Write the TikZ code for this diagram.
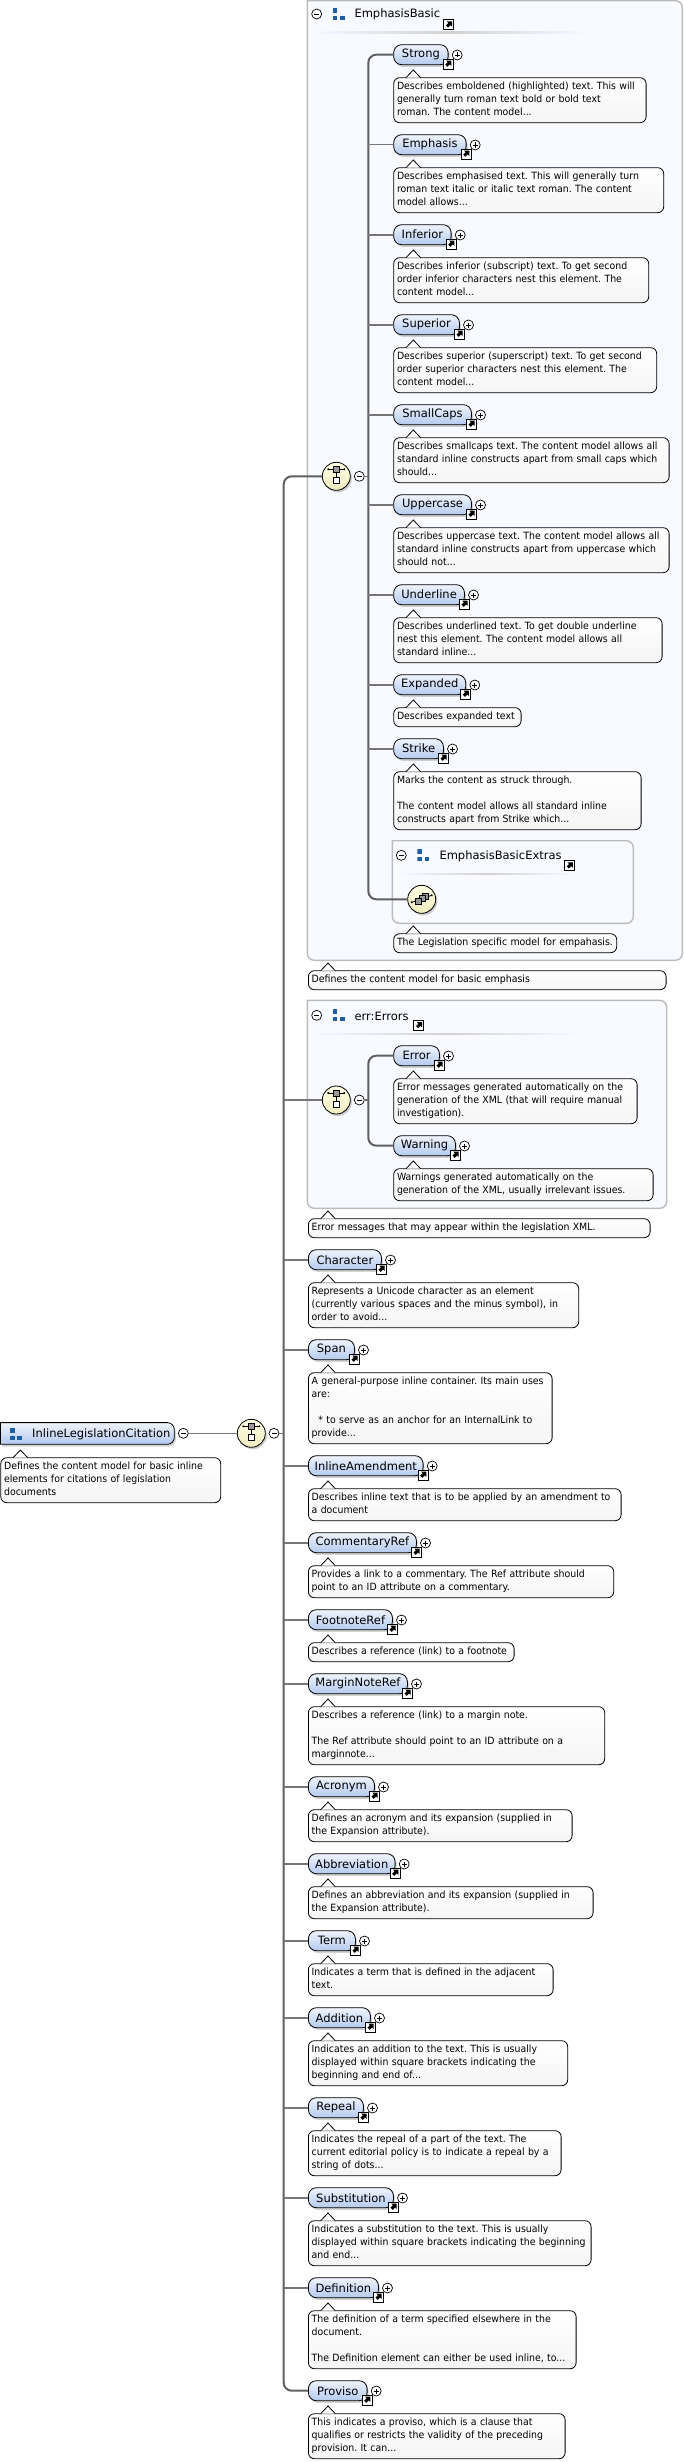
\documentclass[tikz,border=0pt]{standalone}
\usepackage{fontspec}
\setmainfont[FakeStretch=0.938]{DejaVu Sans}
\newfontfamily\labelfont{DejaVu Sans}
\usetikzlibrary{calc,positioning,arrows,shadows,backgrounds}
\pgfdeclarelayer{back}
\pgfsetlayers{back,main}

\definecolor{pilltop}{HTML}{F0F4FD}
\definecolor{pillbottom}{HTML}{B4CAEE}
\definecolor{groupfill}{HTML}{F8FAFF}
\definecolor{groupline}{HTML}{BBBBBB}
\definecolor{wirecolor}{HTML}{5F5F5F}
\definecolor{branchcolor}{HTML}{777777}
\definecolor{iconblue}{HTML}{1F5FA8}
\definecolor{seqtop}{HTML}{FFFFE4}
\definecolor{seqbottom}{HTML}{EFEBBF}

\tikzset{
  elembox/.style={draw,line width=.8pt,rounded corners=8pt,top color=pilltop,bottom color=pillbottom,
    inner sep=0pt,minimum height=20pt,font=\labelfont\fontsize{11.5}{13}\selectfont,
    drop shadow={shadow xshift=1.5pt,shadow yshift=-2.2pt,opacity=.35}},
  docbox/.style={draw,line width=.8pt,rounded corners=6pt,top color=white,bottom color=black!4,
    inner xsep=3.3pt,inner ysep=3pt,align=left,font=\fontsize{10}{13}\selectfont,
    execute at begin node={\frenchspacing\strut},execute at end node={\strut}},
  doctip/.style={draw,line width=.8pt,fill=white},
  titlebox/.style={inner sep=0pt,yshift=-.7pt,font=\labelfont\fontsize{11.5}{13}\selectfont},
  groupframe/.style={draw=groupline,line width=1.4pt,fill=groupfill},
  wire/.style={draw=wirecolor,line width=2pt},
  branch/.style={draw=branchcolor,line width=1.6pt},
  seqbox/.style={circle,draw,line width=.8pt,inner sep=0pt,minimum size=28pt,top color=seqtop,bottom color=seqbottom,
    drop shadow={shadow xshift=1.5pt,shadow yshift=-2pt,opacity=.4}},
  plusbox/.style={circle,draw,line width=.7pt,fill=white,inner sep=0pt,minimum size=10pt,
    path picture={\draw[line width=.7pt] ($(path picture bounding box.center)+(-2.5,0)$) -- ++(5,0);
      \draw[line width=.7pt] ($(path picture bounding box.center)+(0,-2.5)$) -- ++(0,5);}},
  minusbox/.style={circle,draw,line width=.7pt,fill=white,inner sep=0pt,minimum size=10pt,
    path picture={\draw[line width=.7pt] ($(path picture bounding box.center)+(-2.5,0)$) -- ++(5,0);}},
  refbox/.style={draw,line width=.9pt,fill=white,inner sep=0pt,minimum size=10pt,anchor=north west,
    path picture={\fill[black] ($(path picture bounding box.center)+(3.4,-3.4)$) -- ++(-5.4,0) -- ++(1.6,1.6) -- ++(-2.4,2.4) -- ++(2.2,2.2) -- ++(2.4,-2.4) -- ++(1.6,1.6) -- cycle;}},
  iconbox/.style={inner sep=0pt,minimum size=12pt,
    path picture={\fill[iconblue] ($(path picture bounding box.center)+(-6,-6)$) rectangle ++(4.6,4.6);
      \fill[iconblue] ($(path picture bounding box.center)+(-6,1.6)$) rectangle ++(4.6,4.4);
      \fill[iconblue] ($(path picture bounding box.center)+(1.4,1.6)$) rectangle ++(4.6,4.4);}}
}

% comment bubble: name, left, top, right, number of lines, text
\newcommand{\docnote}[6]{
  \pgfmathsetmacro\docw{#4-#2-6.6}
  \pgfmathsetmacro\doch{13*#5+6}
  \node [docbox,anchor=north west,text width=\docw pt,minimum height=\doch pt] at (#2,#3) (#1) {#6};
  \draw [doctip] ($(#1.north west)+(12.7,.4)$) -- ++(7.3,-7.7) -- ++(7.3,7.7);
}

% elements of one sequence: left, then name/pill right/top/bubble right/lines/text
\newcommand{\elementlist}[2]{
  \foreach \lab/\pr/\yy/\dr/\nl/\txt in {#2}
  {
    \pgfmathsetmacro\pw{\pr-#1}
    \pgfmathsetmacro\dy{\yy+33}
    \node [elembox,anchor=north west,minimum width=\pw pt] at (#1,\yy) (elem_\lab) {\lab};
    \node [refbox] at ($(elem_\lab.north east)+(-6,14.3)$) (ref_\lab) {};
    \node [plusbox] at ($(elem_\lab.east)+(8.7,.3)$) (plus_\lab) {};
    \docnote{doc_\lab}{#1}{\dy}{\dr}{\nl}{\txt}
  }
}

\begin{document}
\begin{tikzpicture}[x=1pt,y=-1pt]
  \useasboundingbox (0,0) rectangle (684,2462);

  % group frames
  \draw [groupframe] (307.3,.7) [rounded corners=7pt] -- (682.3,.7) -- (682.3,960.3) -- (307.3,960.3) [sharp corners] -- cycle;
  \draw [groupframe] (307.3,1000.3) [rounded corners=7pt] -- (666.7,1000.3) -- (666.7,1208.3) -- (307.3,1208.3) [sharp corners] -- cycle;
  \draw [groupframe] (392.3,840.7) [rounded corners=7pt] -- (633.3,840.7) -- (633.3,923.3) -- (392.3,923.3) [sharp corners] -- cycle;

  \foreach \gx/\gy/\gw in {310/32/280,310/1033.3/270,397/873.3/178}{
    \shade [left color=groupfill,right color=groupfill,middle color=black!18] (\gx,\gy) rectangle ++(\gw,1.6);
  }

  % group headers
  \foreach \g/\mx/\my/\tx/\txt/\rx/\ry in {
    basic/316.7/14/354.3/EmphasisBasic/443.3/19.3,
    errors/316.7/1015.3/354.3/err:Errors/413.3/1020,
    extras/401.3/855.3/439.3/EmphasisBasicExtras/564/860.3}
  {
    \node [minusbox] at (\mx,\my) (group_minus_\g) {};
    \node [iconbox,right=10.6pt of group_minus_\g] (group_icon_\g) {};
    \node [titlebox,anchor=west] at (\tx,\my) (group_title_\g) {\txt};
    \node [refbox] at (\rx,\ry) (group_ref_\g) {};
  }

  % root element
  \node [titlebox,anchor=west] at (32,1433.3) (root_label) {InlineLegislationCitation};
  \coordinate (root_nw) at (.4,1422.6);
  \coordinate (root_se) at (174.3,1444.3);
  \begin{pgfonlayer}{back}
    \path [draw,line width=.8pt,top color=pilltop,bottom color=pillbottom,drop shadow={shadow xshift=1.5pt,shadow yshift=-2.2pt,opacity=.35}]
      (root_nw) [rounded corners=7pt] -- (root_nw -| root_se) -- (root_se) [sharp corners] -- (root_nw |- root_se) -- cycle;
  \end{pgfonlayer}
  \node [iconbox] at (16,1434.2) (root_icon) {};
  \node [minusbox] at (183.3,1433.3) (root_minus) {};
  \docnote{doc_root}{.4}{1457.3}{220.3}{3}{Defines the content model for basic inline\\elements for citations of legislation\\documents}

  % compositors
  \node [seqbox] at (251.3,1433.3) (seq_main) {};
  \node [minusbox] at (274,1433.3) (seq_main_minus) {};
  \node [seqbox] at (336.3,476.3) (seq_basic) {};
  \node [minusbox] at (359.3,476.3) (seq_basic_minus) {};
  \node [seqbox] at (336.3,1100) (seq_errors) {};
  \node [minusbox] at (359.3,1100) (seq_errors_minus) {};
  \node [seqbox] at (421.7,899.3) (seq_extras) {};

  \foreach \s in {seq_main,seq_basic,seq_errors}{
    \draw [line width=.8pt] ($(\s)+(-8,-7)$) -- ++(16,0);
    \draw [line width=.8pt] ($(\s)+(0,-7)$) -- ++(0,8);
    \fill ($(\s)+(-8,-7)$) circle (1.1);
    \fill ($(\s)+(8,-7)$) circle (1.1);
    \draw [line width=.8pt,fill=black!40] ($(\s)+(-3.2,-10)$) rectangle ++(6.4,6);
    \draw [line width=.8pt,fill=white] ($(\s)+(-3.2,1)$) rectangle ++(6.4,6);
  }

  \draw [line width=.8pt] ($(seq_extras)+(-10,3)$) -- ++(20,-7);
  \fill ($(seq_extras)+(-10,3)$) circle (1.1);
  \fill ($(seq_extras)+(10,-4)$) circle (1.1);
  \draw [line width=.8pt,fill=black!40] ($(seq_extras)+(1,-6)$) rectangle ++(6,6);
  \draw [line width=.8pt,fill=black!40] ($(seq_extras)+(-2.5,-3.5)$) rectangle ++(6,6);
  \draw [line width=.8pt,fill=black!40] ($(seq_extras)+(-6,-.5)$) rectangle ++(6,6);

  % elements
  \elementlist{393.3}{
    Strong/447.7/44.3/645.7/3/{Describes emboldened (highlighted) text. This will\\generally turn roman text bold or bold text\\roman. The content model...},
    Emphasis/465.7/134.3/663.3/3/{Describes emphasised text. This will generally turn\\roman text italic or italic text roman. The content\\model allows...},
    Inferior/450.7/224.3/648.3/3/{Describes inferior (subscript) text. To get second\\order inferior characters nest this element. The\\content model...},
    Superior/459/314.3/656.3/3/{Describes superior (superscript) text. To get second\\order superior characters nest this element. The\\content model...},
    SmallCaps/471/404.3/668.7/3/{Describes smallcaps text. The content model allows all\\standard inline constructs apart from small caps which\\should...},
    Uppercase/471/494.3/668.7/3/{Describes uppercase text. The content model allows all\\standard inline constructs apart from uppercase which\\should not...},
    Underline/464/584.3/661.7/3/{Describes underlined text. To get double underline\\nest this element. The content model allows all\\standard inline...},
    Expanded/465.3/674.3/520.7/1/{Describes expanded text},
    Strike/443/738.3/640.7/4/{Marks the content as struck through.\\~\\The content model allows all standard inline\\constructs apart from Strike which...}}

  \elementlist{393.3}{
    Error/439/1045.3/636.7/3/{Error messages generated automatically on the\\generation of the XML (that will require manual\\investigation).},
    Warning/455/1135.3/652.7/2/{Warnings generated automatically on the\\generation of the XML, usually irrelevant issues.}}

  \elementlist{308}{
    Character/381/1249.3/578.3/3/{Represents a Unicode character as an element\\(currently various spaces and the minus symbol), in\\order to avoid...},
    Span/354/1339.3/551.7/5/{A general-purpose inline container. Its main uses\\are:\\~\\\ \ * to serve as an anchor for an InternalLink to\\provide...},
    InlineAmendment/422.7/1455.3/620.7/2/{Describes inline text that is to be applied by an amendment to\\a document},
    CommentaryRef/416/1532.3/613.3/2/{Provides a link to a commentary. The Ref attribute should\\point to an ID attribute on a commentary.},
    FootnoteRef/392/1609.3/513.7/1/{Describes a reference (link) to a footnote},
    MarginNoteRef/407/1673.3/604.3/4/{Describes a reference (link) to a margin note.\\~\\The Ref attribute should point to an ID attribute on a\\marginnote...},
    Acronym/374/1776.3/571.7/2/{Defines an acronym and its expansion (supplied in\\the Expansion attribute).},
    Abbreviation/394.7/1853.3/592.7/2/{Defines an abbreviation and its expansion (supplied in\\the Expansion attribute).},
    Term/355/1930.3/552.7/2/{Indicates a term that is defined in the adjacent\\text.},
    Addition/370/2007.3/567.3/3/{Indicates an addition to the text. This is usually\\displayed within square brackets indicating the\\beginning and end of...},
    Repeal/363/2097.3/560.7/3/{Indicates the repeal of a part of the text. The\\current editorial policy is to indicate a repeal by a\\string of dots...},
    Substitution/393/2187.3/590.7/3/{Indicates a substitution to the text. This is usually\\displayed within square brackets indicating the beginning\\and end...},
    Definition/378/2277.3/575.7/4/{The definition of a term specified elsewhere in the\\document.\\~\\The Definition element can either be used inline, to...},
    Proviso/366.7/2380.3/564.7/3/{This indicates a proviso, which is a clause that\\qualifies or restricts the validity of the preceding\\provision. It can...}}

  % group comments
  \docnote{doc_extras}{393.3}{933.3}{616.3}{1}{The Legislation specific model for empahasis.}
  \docnote{doc_basic}{308}{970.3}{665.7}{1}{Defines the content model for basic emphasis}
  \docnote{doc_errors}{308}{1218.3}{649.7}{1}{Error messages that may appear within the legislation XML.}

  % connectors
  \coordinate (bus_main) at (283.7,1433.3);
  \coordinate (bus_basic) at (368.3,476.3);
  \coordinate (bus_errors) at (368.3,1100);

  \draw [branch] (root_minus.east) -- (seq_main.west);
  \draw [branch] (seq_main_minus.east) -- (bus_main);
  \draw [branch] (seq_basic_minus.east) -- (bus_basic);
  \draw [branch] (seq_errors_minus.east) -- (bus_errors);
  \draw [wire,rounded corners=8pt] (seq_basic.west) -| (bus_main) |- (elem_Proviso.west);
  \draw [branch] (bus_main |- seq_errors.west) -- (seq_errors.west);
  \draw [wire,rounded corners=8pt] (elem_Strong.west) -| (bus_basic) |- (seq_extras.west);
  \draw [wire,rounded corners=8pt] (elem_Error.west) -| (bus_errors) |- (elem_Warning.west);

  \foreach \lab in {Emphasis,Inferior,Superior,SmallCaps,Uppercase,Underline,Expanded,Strike}{
    \draw [branch] (bus_basic |- elem_\lab.west) -- (elem_\lab.west);
  }
  \foreach \lab in {Character,Span,InlineAmendment,CommentaryRef,FootnoteRef,MarginNoteRef,Acronym,Abbreviation,Term,Addition,Repeal,Substitution,Definition}{
    \draw [branch] (bus_main |- elem_\lab.west) -- (elem_\lab.west);
  }

\end{tikzpicture}
\end{document}
